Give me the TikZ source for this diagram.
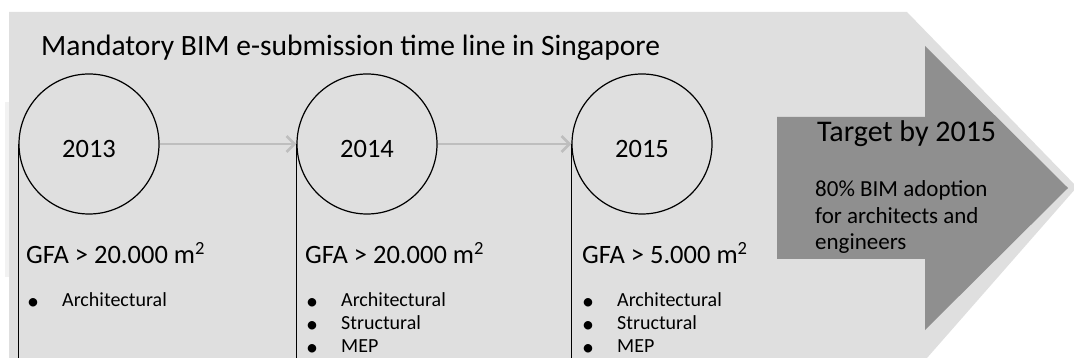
\documentclass[tikz,border=0pt]{standalone}
\usepackage{fontspec}
\setmainfont{Carlito}
\usetikzlibrary{arrows.meta}

\definecolor{panelgray}{RGB}{223,223,223}
\definecolor{targetgray}{RGB}{143,143,143}
\definecolor{linkgray}{RGB}{190,190,190}

\newcommand{\dotitem}{\raisebox{-3.5pt}{\fontsize{24}{24}\selectfont •}}

\begin{document}
\begin{tikzpicture}[x=1pt,y=-1pt,
    year/.style={circle,draw=black,line width=1.2pt,minimum size=140pt,inner sep=0pt,
        text height=28pt,text depth=1pt,font=\fontsize{26.5}{31}\selectfont},
    link/.style={draw=linkgray,line width=2.6pt,-{Straight Barb[length=8pt,width=16pt]}},
    stem/.style={draw=black,line width=1.5pt},
    gfa/.style={anchor=base west,inner sep=0pt,font=\fontsize{26.5}{31}\selectfont},
    items/.style={anchor=base west,inner sep=0pt,font=\fontsize{20}{23}\selectfont}]
    \useasboundingbox (0,0) rectangle (1074,358);
    \clip (0,0) rectangle (1074,358);

    % big pale arrow behind everything
    \fill[panelgray] (9,12) -- (907,12) -- (1077,187) -- (927,358) -- (9,358) -- cycle;
    \fill[gray!10] (5,102) rectangle (9,277);
    % dark target arrow
    \fill[targetgray] (777,117) -- (925,117) -- (925,46) -- (1068,188)
        -- (925,330) -- (925,259) -- (777,259) -- cycle;

    \node[anchor=base west,inner sep=0pt,font=\fontsize{29.5}{35}\selectfont] (title) at (41,56)
        {Mandatory BIM e-submission time line in Singapore};

    \coordinate (base) at (0,360);

    \node[year] (y13) at (89,144) {2013};
    \node[year] (y14) at (367,144) {2014};
    \node[year] (y15) at (642,144) {2015};

    \draw[link] (y13) -- (y14);
    \draw[link] (y14) -- (y15);

    \draw[stem] (y13.west) -- (y13.west |- base);
    \draw[stem] (y14.west) -- (y14.west |- base);
    \draw[stem] (y15.west) -- (y15.west |- base);

    \node[gfa] (gfa13) at (26,264) {GFA > 20.000 m\textsuperscript{2}};
    \node[gfa] (gfa14) at (305,264) {GFA > 20.000 m\textsuperscript{2}};
    \node[gfa] (gfa15) at (582,264) {GFA > 5.000 m\textsuperscript{2}};

    \node[items] (list13) at (27,306) {\begin{tabular}[t]{@{}p{35pt}@{}l@{}}
        \dotitem & Architectural\end{tabular}};
    \node[items] (list14) at (306,306) {\begin{tabular}[t]{@{}p{35pt}@{}l@{}}
        \dotitem & Architectural\\ \dotitem & Structural\\ \dotitem & MEP\end{tabular}};
    \node[items] (list15) at (582,306) {\begin{tabular}[t]{@{}p{35pt}@{}l@{}}
        \dotitem & Architectural\\ \dotitem & Structural\\ \dotitem & MEP\end{tabular}};

    \node[anchor=base west,inner sep=0pt,font=\fontsize{30}{36}\selectfont] (target) at (817,142)
        {Target by 2015};
    \node[anchor=base west,inner sep=0pt,font=\fontsize{23}{26.5}\selectfont] (goal) at (815,197)
        {\begin{tabular}[t]{@{}l@{}}80\% BIM adoption\\for architects and\\engineers\end{tabular}};
\end{tikzpicture}
\end{document}
